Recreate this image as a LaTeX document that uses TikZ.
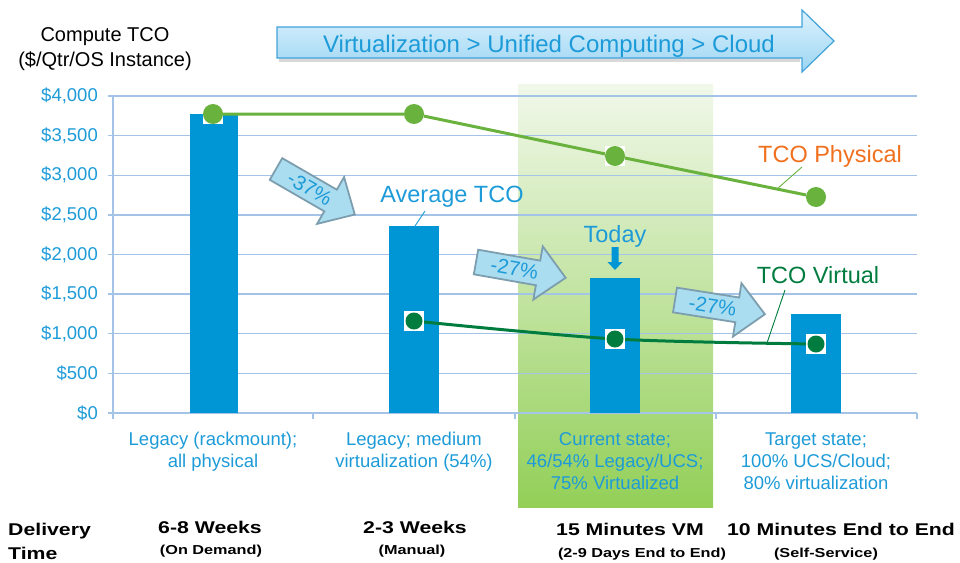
\documentclass[tikz,border=0pt]{standalone}
\usepackage{fontspec}
\setmainfont{Liberation Sans}
\newfontfamily\wfont[FakeStretch=1.25]{Liberation Sans}
\definecolor{gridc}{HTML}{A3C4E6}
\definecolor{barc}{HTML}{0095D5}
\definecolor{lblc}{HTML}{1D9BD8}
\definecolor{physc}{HTML}{6AB23E}
\definecolor{virtc}{HTML}{007C3E}
\definecolor{orangec}{HTML}{F0701E}
\definecolor{parrowfill}{HTML}{ABDDF0}
\definecolor{parrowdraw}{HTML}{7C9EAF}
\definecolor{toptop}{HTML}{DDF2FD}
\definecolor{topbot}{HTML}{9CD5F3}
\definecolor{topdraw}{HTML}{41A3DA}
\definecolor{hltop}{HTML}{F1F8EA}
\definecolor{hlbot}{HTML}{93CF58}
\begin{document}
\begin{tikzpicture}[x=1pt,y=-1pt,
  gridline/.style={draw=gridc,line width=1.3pt},
  ticklbl/.style={anchor=east,inner sep=0pt,text=lblc,font=\fontsize{18.5}{20}\selectfont},
  catlbl/.style={anchor=base,inner sep=0pt,text=lblc,font=\fontsize{18.5}{20}\selectfont},
  bigbold/.style={anchor=base,inner sep=0pt,font=\wfont\bfseries\fontsize{17}{19}\selectfont},
  smallbold/.style={anchor=base,inner sep=0pt,font=\wfont\bfseries\fontsize{13}{15}\selectfont},
  titlelbl/.style={anchor=base,inner sep=0pt,font=\fontsize{20}{22}\selectfont},
  barfill/.style={fill=barc},
  pmark/.style={rectangle,fill=white,minimum size=20pt,inner sep=0pt,
    path picture={\fill[physc] (path picture bounding box.center) circle (10pt);}},
  vmark/.style={rectangle,fill=white,minimum size=20pt,inner sep=0pt,
    path picture={\fill[virtc] (path picture bounding box.center) circle (8.5pt);}},
  physline/.style={draw=physc,line width=3pt},
  virtline/.style={draw=virtc,line width=3pt},
  pctarrow/.style={fill=parrowfill,draw=parrowdraw,line width=1.8pt,line join=miter},
  pcttext/.style={text=lblc,font=\fontsize{20.5}{22}\selectfont,inner sep=0pt},
  callout/.style={font=\fontsize{23.5}{26}\selectfont,anchor=base,inner sep=0pt},
  leader/.style={line width=0.9pt},
]
\useasboundingbox (0,0) rectangle (960,562);

% highlight band
\shade[top color=hltop,bottom color=hlbot] (518,84) rectangle (713,507);

% grid lines and axis
\foreach \k in {1,...,8} {
  \draw[gridline] (108,{413-39.625*\k}) -- (917,{413-39.625*\k});
}
\draw[gridline] (108,413) -- (917,413);
\draw[gridline] (113,96) -- (113,413);
\foreach \xx in {113,313,515,716,917} {
  \draw[gridline] (\xx,413) -- (\xx,419);
}

% tick labels
\node[ticklbl] (t0) at (98,413) {\$0};
\node[ticklbl] (t1) at (98,373.4) {\$500};
\node[ticklbl] (t2) at (98,333.75) {\$1,000};
\node[ticklbl] (t3) at (98,294.1) {\$1,500};
\node[ticklbl] (t4) at (98,254.5) {\$2,000};
\node[ticklbl] (t5) at (98,214.9) {\$2,500};
\node[ticklbl] (t6) at (98,175.25) {\$3,000};
\node[ticklbl] (t7) at (98,135.6) {\$3,500};
\node[ticklbl] (t8) at (98,96) {\$4,000};

% axis title
\node[titlelbl] (ttl1) at (105,41) {Compute TCO};
\node[titlelbl] (ttl2) at (105,66) {(\$/Qtr/OS Instance)};

% bars
\fill[barfill] (190,413) rectangle (238,114);
\fill[barfill] (389,413) rectangle (439,226);
\fill[barfill] (590,413) rectangle (640,278);
\fill[barfill] (791,413) rectangle (841,314);

% series lines
\coordinate (p1) at (213,114);
\coordinate (p2) at (414,114);
\coordinate (p3) at (615,156);
\coordinate (p4) at (816,197);
\coordinate (v2) at (414,321);
\coordinate (v3) at (615,339);
\coordinate (v4) at (816,344);
\draw[physline] (p1) -- (p2) -- (p3) -- (p4);
\draw[virtline] plot[smooth,tension=0.5] coordinates {(v2) (v3) (v4)};

% leaders
\coordinate (lpa) at (802,167);
\coordinate (lpb) at (777,189);
\draw[leader,physc] (lpa) -- (lpb);
\coordinate (lva) at (785,290);
\coordinate (lvb) at (767,343);
\draw[leader,virtc] (lva) -- (lvb);
\coordinate (laa) at (425,211);
\coordinate (lab) at (415,226);
\draw[leader,lblc] (laa) -- (lab);

% markers
\node[pmark] (mp1) at (p1) {};
\node[pmark] (mp2) at (p2) {};
\node[pmark] (mp3) at (p3) {};
\node[pmark] (mp4) at (p4) {};
\node[vmark] (mv2) at (v2) {};
\node[vmark] (mv3) at (v3) {};
\node[vmark] (mv4) at (v4) {};

% callouts
\node[callout,text=orangec] (lphys) at (830,162) {TCO Physical};
\node[callout,text=virtc] (lvirt) at (818,283) {TCO Virtual};
\node[callout,text=lblc] (lavg) at (452,202) {Average TCO};
\node[callout,text=lblc] (ltoday) at (615,242) {Today};
\fill[barc] (611.5,247) -- (618.5,247) -- (618.5,262) -- (622.5,262) -- (615,270)
  -- (607.5,262) -- (611.5,262) -- cycle;

% percentage arrows
\begin{scope}[shift={(276,169)},rotate=-30]
  \draw[pctarrow] (0,-12.5) -- (63,-12.5) -- (63,-27) -- (91,0) -- (63,27) -- (63,12.5) -- (0,12.5) -- cycle;
  \node[pcttext,rotate=-30] (pa1) at (39,0) {-37\%};
\end{scope}
\begin{scope}[shift={(476,262)},rotate=-10]
  \draw[pctarrow] (0,-12.5) -- (63,-12.5) -- (63,-27) -- (91,0) -- (63,27) -- (63,12.5) -- (0,12.5) -- cycle;
  \node[pcttext,rotate=-10] (pa2) at (39,0) {-27\%};
\end{scope}
\begin{scope}[shift={(675,300)},rotate=-9]
  \draw[pctarrow] (0,-12.5) -- (63,-12.5) -- (63,-27) -- (91,0) -- (63,27) -- (63,12.5) -- (0,12.5) -- cycle;
  \node[pcttext,rotate=-9] (pa3) at (38,0) {-27\%};
\end{scope}

% top arrow
\fill[black,opacity=0.15] (279,31) -- (800,31) -- (800,62) -- (279,62) -- cycle;
\shade[top color=toptop,bottom color=topbot,draw=topdraw,line width=1.2pt]
  (277,27) -- (802,27) -- (802,10) -- (834,41) -- (802,72) -- (802,58) -- (277,58) -- cycle;
\node[anchor=base,inner sep=0pt,text=lblc,font=\fontsize{24}{26}\selectfont] (toptxt) at (549,52)
  {Virtualization > Unified Computing > Cloud};

% category labels
\node[catlbl] (c1a) at (213,445) {Legacy (rackmount);};
\node[catlbl] (c1b) at (213,467) {all physical};
\node[catlbl] (c2a) at (414,445) {Legacy; medium};
\node[catlbl] (c2b) at (414,467) {virtualization (54\%)};
\node[catlbl] (c3a) at (615,445) {Current state;};
\node[catlbl] (c3b) at (615,467) {46/54\% Legacy/UCS;};
\node[catlbl] (c3c) at (615,489) {75\% Virtualized};
\node[catlbl] (c4a) at (816,445) {Target state;};
\node[catlbl] (c4b) at (816,467) {100\% UCS/Cloud;};
\node[catlbl] (c4c) at (816,489) {80\% virtualization};

% delivery row
\node[bigbold,anchor=base west] (dl1) at (8,535) {Delivery};
\node[bigbold,anchor=base west] (dl2) at (8,559) {Time};
\node[bigbold] (d1a) at (210,533) {6-8 Weeks};
\node[smallbold] (d1b) at (211,554) {(On Demand)};
\node[bigbold] (d2a) at (415,533) {2-3 Weeks};
\node[smallbold] (d2b) at (412,554) {(Manual)};
\node[bigbold] (d3a) at (630,535) {15 Minutes VM};
\node[smallbold] (d3b) at (642,557) {(2-9 Days End to End)};
\node[bigbold] (d4a) at (841,535) {10 Minutes End to End};
\node[smallbold] (d4b) at (826,557) {(Self-Service)};
\end{tikzpicture}
\end{document}
